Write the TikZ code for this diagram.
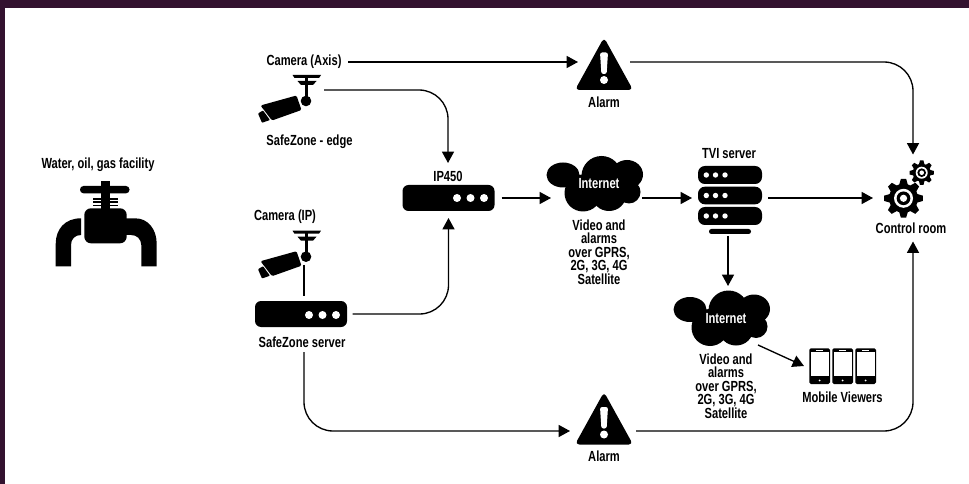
\documentclass[tikz,border=0pt]{standalone}
\usepackage{fontspec}
\usetikzlibrary{arrows.meta,calc}
\newfontfamily\lblfont[FakeStretch=0.76]{Liberation Sans}
\definecolor{frame}{HTML}{33122F}
\tikzset{
  conn/.style={line width=1pt,black,-{Triangle[length=8.5pt,width=9pt]}},
  plainconn/.style={line width=1pt,black},
  roundbend/.style={rounded corners=21.75pt},
  lbl/.style={font=\lblfont\bfseries\fontsize{11}{10.1}\selectfont,align=center,inner sep=0pt,outer sep=0pt,text=black},
  cloudlbl/.style={lbl,text=white},
  slot/.style={inner sep=0pt,outer sep=0pt,minimum width=#1},
  routerbox/.style={fill=black,rounded corners=4.5pt,inner sep=0pt,minimum width=69pt,minimum height=19.5pt}
}
\newcommand{\alarmicon}[1]{\begin{scope}[yshift=-#1*0.75pt]
  \fill[black,rounded corners=3.2pt] (604,37.5)--(633,90)--(575,90)--cycle;
  \fill[white,rounded corners=1.6pt] (600,52.5)--(608,52.5)--(606.6,74)--(601.4,74)--cycle;
  \fill[white] (604,80) circle (4);
\end{scope}}
\newcommand{\cameraicon}[1]{\begin{scope}[yshift=-#1*0.75pt]
  \fill[black] (292.5,75)--(321,75)--(319,78)--(294.5,78)--cycle;
  \fill[black] (297.5,81)--(316.5,81)--(313,85)--(301,85)--cycle;
  \fill[black] (304.7,75) rectangle (308.3,100);
  \fill[black] (306,101) circle (5.3);
  \fill[black,rounded corners=1pt] (260.5,105.5)--(296.5,95.5)--(301.5,110)--(272,120.5)--cycle;
  \fill[black,rounded corners=.6pt] (258,113.5)--(263,110.5)--(270,120)--(262,122.8)--cycle;
\end{scope}}
\newcommand{\cloudicon}[2]{\begin{scope}[xshift=#1*0.75pt,yshift=-#2*0.75pt]
  \fill[black] (563,175) ellipse (16.5 and 12.5);
  \fill[black] (601.5,176) circle (20);
  \fill[black] (627,174.5) ellipse (16 and 14.5);
  \fill[black] (629,192) circle (11.5);
  \fill[black] (583,193) ellipse (18.5 and 18.5);
  \fill[black] (609,195) ellipse (17 and 16);
\end{scope}}
\newcommand{\gearicon}[6]{% cx cy outer root ringOuter toothWidth
  \foreach \a in {0,45,...,315}{
    \fill[black,rotate around={\a:(#1,#2)}] ($(#1,#2)+(-#6*0.62,-#4+1)$)--($(#1,#2)+(-#6*0.38,-#3)$)--($(#1,#2)+(#6*0.38,-#3)$)--($(#1,#2)+(#6*0.62,-#4+1)$)--cycle;
  }
  \fill[black] (#1,#2) circle (#4);
  \fill[white] (#1,#2) circle (#5);
  \fill[black] (#1,#2) circle (#5*0.72);
  \fill[white] (#1,#2) circle (#5*0.38);
}
\newcommand{\phoneicon}[1]{\begin{scope}[xshift=#1*0.75pt]
  \fill[black,rounded corners=1.2pt] (809.3,348.3) rectangle (830,384);
  \fill[white] (810.8,352) rectangle (828.5,376.3);
  \fill[white] (816.2,349.5) rectangle (823.2,350.9);
  \fill[white] (819.6,380.4) circle (1);
\end{scope}}
\begin{document}
\begin{tikzpicture}[x=0.75pt,y=-0.75pt]
\useasboundingbox (0,0) rectangle (969,484);
\fill[white] (0,0) rectangle (969,484);
\fill[frame] (0,0) rectangle (969,8);
\fill[frame] (0,0) rectangle (5,484);

% faucet
\fill[black,rounded corners=2.6pt] (80,186)--(129.5,186)--(129.5,193.3)--(80,193.3)--cycle;
\fill[black] (101,181) rectangle (110,213);
\fill[black] (92.7,198) rectangle (118,199.6);
\fill[black] (92.7,201.5) rectangle (118,203);
\fill[black] (92.7,204.8) rectangle (118,206.3);
\fill[black,rounded corners=5pt] (84.3,208.3) rectangle (126.7,243.3);
\fill[black] (81,218.3) .. controls (65,218.3) and (55.7,229) .. (55.7,244) -- (55.7,266.3) -- (71,266.3) -- (71,245) .. controls (71,239) and (75,235) .. (81,235) -- cycle;
\fill[black] (124,218.3) -- (135,218.3) .. controls (148,218.3) and (156.7,229) .. (156.7,244) -- (156.7,266.3) -- (141.3,266.3) -- (141.3,245) .. controls (141,239) and (137,235) .. (131,235) -- (124,235) -- cycle;
\node[lbl] (facility) at (98,165) {Water, oil, gas facility};

% icons
\cameraicon{0}
\cameraicon{155.7}
\alarmicon{0}
\alarmicon{354.5}
\cloudicon{0}{0}
\cloudicon{127}{134.5}
\gearicon{903.5}{198.3}{19.3}{14.5}{9.5}{7}
\gearicon{921.7}{172.7}{12.2}{9}{6}{4.6}
\phoneicon{0}\phoneicon{23}\phoneicon{46}

% TVI server
\foreach \ya/\yb in {166/184,186.7/204.3,207/225}{
  \fill[black,rounded corners=5.2pt] (698,\ya) rectangle (762,\yb);
  \pgfmathsetmacro{\ym}{(\ya+\yb)/2}
  \foreach \xd in {706.3,715.5,725}{\fill[white] (\xd,\ym) circle (2.7);}
}
\fill[black,rounded corners=1.8pt] (709,229) rectangle (751,234);

% routers
\node[routerbox,outer sep=7*0.75pt] (ip) at (448.5,198) {};
\foreach \xd in {457,470.5,484}{\fill[white] (\xd,198) circle (4);}
\node[routerbox,outer sep=5.5*0.75pt] (server) at (301,314) {};
\foreach \xd in {309,322.5,336}{\fill[white] (\xd,315) circle (4);}

% connection slots
\node[slot=39pt,minimum height=39pt] (alarmA) at (604,62) {};
\node[slot=49.5pt,minimum height=39pt] (alarmB) at (603,431) {};
\node[slot=57pt,minimum height=20pt] (camA) at (286,90) {};
\node[slot=30pt,minimum height=37.5pt] (camB) at (304,240) {};
\node[slot=68.25pt,minimum height=30pt] (cloudA) at (596.5,198) {};
\node[slot=60pt,minimum height=48pt] (cloudB) at (728,318) {};
\node[slot=57pt,minimum height=57pt] (tvi) at (730,198) {};
\node[slot=60pt,minimum height=65.25pt] (ctrl) at (913,198) {};
\node[slot=57pt,minimum height=20pt] (mobile) at (842,366) {};
\coordinate (cloudBout) at (758,345);

% labels
\node[lbl,minimum width=66pt] (axis) at (304,62) {Camera (Axis)};
\node[lbl] (edge) at (309.5,142) {SafeZone - edge};
\node[lbl] (camip) at (285,217) {Camera (IP)};
\node[lbl,minimum height=19.5pt] (iplbl) at (448,176) {IP450};
\node[lbl,minimum height=15pt] (srvlbl) at (302,342) {SafeZone server};
\node[lbl] (alarmlblA) at (604,102) {Alarm};
\node[lbl] (alarmlblB) at (604,456) {Alarm};
\node[lbl] (tvilbl) at (729,154) {TVI server};
\node[lbl] (ctrllbl) at (911,228) {Control room};
\node[lbl] (moblbl) at (842.5,397) {Mobile Viewers};
\node[cloudlbl] (inetA) at (599,184) {Internet};
\node[cloudlbl] (inetB) at (726,319) {Internet};
\node[lbl] (netA) at (599,252) {Video and\\alarms\\over GPRS,\\2G, 3G, 4G\\Satellite};
\node[lbl] (netB) at (726,386) {Video and\\alarms\\over GPRS,\\2G, 3G, 4G\\Satellite};

% connectors
\draw[conn] (axis.east) -- (alarmA.west);
\draw[conn,roundbend] (alarmA.east) -| (ctrl.north);
\draw[conn,roundbend] (camA.east) -| (iplbl.north);
\draw[plainconn] (camB.south) -- (camB.south |- server.north);
\draw[conn,roundbend] (server.east) -| (ip.south);
\draw[conn] (ip.east) -- (cloudA.west);
\draw[conn] (cloudA.east) -- (tvi.west);
\draw[conn] (tvi.east) -- (ctrl.west);
\draw[conn] (cloudB.north |- tvi.south) -- (cloudB.north);
\draw[conn] (cloudBout) -- (mobile.west);
\draw[conn,roundbend] (camB.south |- srvlbl.south) |- (alarmB.west);
\draw[conn,roundbend] (alarmB.east) -| (ctrl.south);
\end{tikzpicture}
\end{document}
